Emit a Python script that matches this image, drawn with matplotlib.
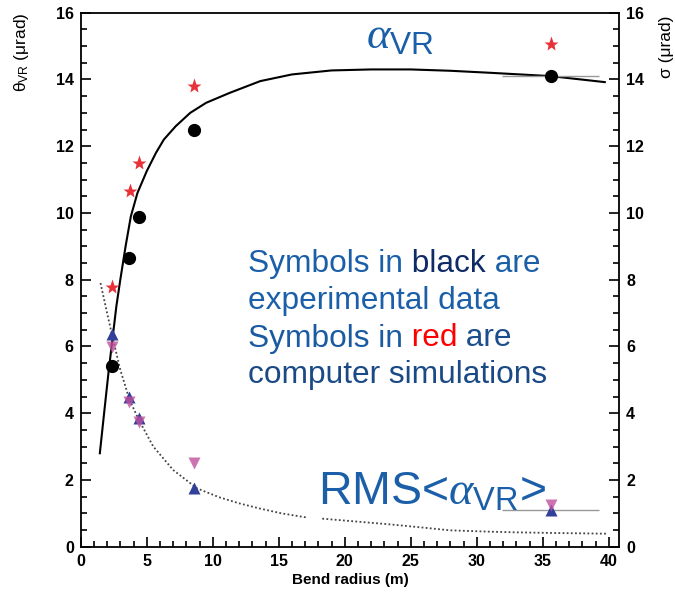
import matplotlib
matplotlib.use("Agg")
import matplotlib.pyplot as plt
import numpy as np

plt.rcParams['font.family'] = ['Liberation Sans', 'DejaVu Sans']
plt.rcParams['mathtext.fontset'] = 'custom'
plt.rcParams['mathtext.rm'] = 'Liberation Sans'
plt.rcParams['mathtext.it'] = 'Liberation Serif:italic'

# ---- data ----
radius_exp = [2.37, 3.68, 4.43, 8.57, 35.6]
theta_exp = [5.42, 8.66, 9.88, 12.48, 14.1]
radius_sim = [2.35, 3.73, 4.44, 8.58, 35.6]
theta_sim = [7.77, 10.65, 11.51, 13.8, 15.07]

radius_sig = [2.39, 3.68, 4.39, 8.6, 35.6]
sigma_up = [6.37, 4.49, 3.85, 1.75, 1.1]
sigma_down = [5.99, 4.34, 3.75, 2.5, 1.25]
xerr_last = [0, 0, 0, 0, 3.7]

curve_x = [1.45, 1.8, 2.1, 2.4, 2.7, 3.0, 3.4, 3.8, 4.3, 5.0, 5.7, 6.3, 7.2, 8.3,
           9.5, 11.3, 13.6, 16, 19, 22, 25, 28, 31, 35.6, 39.7]
curve_y = [2.8, 4.1, 5.2, 6.2, 7.2, 8.0, 9.0, 9.9, 10.6, 11.25, 11.8, 12.2, 12.6, 13.0,
           13.3, 13.6, 13.95, 14.15, 14.27, 14.3, 14.3, 14.26, 14.2, 14.1, 13.92]

dot_x = [1.5, 2.0, 2.4, 3.0, 3.7, 4.4, 5.5, 7.0, 8.8, 10.5, 12, 13.5, 15.2, 17.2,
         17.6, 18.3, 21, 23.4, 26, 28, 31, 33, 36, 39.8]
dot_y = [7.9, 7.0, 6.3, 5.3, 4.4, 3.8, 3.0, 2.3, 1.75, 1.48, 1.3, 1.15, 1.0, 0.87,
         np.nan, 0.84, 0.75, 0.67, 0.57, 0.49, 0.45, 0.43, 0.41, 0.39]

xticks = [0, 5, 10, 15, 20, 25, 30, 35, 40]
yticks = [0, 2, 4, 6, 8, 10, 12, 14, 16]

W, H = 675, 592
fig = plt.figure(figsize=(W / 100, H / 100), dpi=100)
ax = fig.add_axes([80.7 / W, 1 - 546.7 / H, (619.3 - 80.7) / W, (546.7 - 12.7) / H])

ax.plot(curve_x, curve_y, color='black', lw=1.5, zorder=2)
ax.plot(dot_x, dot_y, color='#444444', lw=1.3, linestyle=(0, (1, 1.3)), zorder=2)

ax.errorbar(radius_exp, theta_exp, xerr=xerr_last, fmt='o', color='black', ms=8.5,
            ecolor='#999999', elinewidth=1, capsize=0, zorder=4)
ax.plot(radius_sim, theta_sim, '*', color='#e8323a', ms=11, mec='none', zorder=4)

ax.errorbar(radius_sig, sigma_up, xerr=xerr_last, fmt='^', color='#33409a', ms=9,
            mec='none', ecolor='#999999', elinewidth=1, capsize=0, zorder=4)
ax.plot(radius_sig, sigma_down, 'v', color='#c0509f', ms=9, mec='none', alpha=0.8, zorder=5)

ax.set_xlim(0, 40.8)
ax.set_ylim(0, 16)
ax.set_xticks(xticks)
ax.set_yticks(yticks)
ax.set_xticks(np.arange(0, 41, 1), minor=True)
ax.set_yticks(np.arange(0, 16.01, 0.5), minor=True)
ax.tick_params(which='both', direction='in', top=False, right=True, labelright=True,
               width=1.2)
ax.tick_params(which='major', length=7, pad=5, labelsize=11.5)
ax.tick_params(which='minor', length=4)
for lab in ax.get_xticklabels():
    lab.set_fontweight('bold')
for t in ax.yaxis.get_major_ticks():
    t.label1.set_fontweight('bold')
    t.label2.set_fontweight('bold')
for s in ax.spines.values():
    s.set_linewidth(1.3)

ax.set_xlabel('Bend radius (m)', fontsize=11, fontweight='bold', labelpad=3)

fig.text(22 / W, 1 - 12 / H, r'$\mathrm{θ_{VR}}$ (μrad)', rotation=90, va='top',
         ha='center', fontsize=12.5)
fig.text(666 / W, 1 - 16 / H, 'σ (μrad)', rotation=90, va='top', ha='center', fontsize=12.5)

blue = '#1a5fa8'
fig.text(366 / W, 1 - 48 / H, r'$\alpha_{\mathrm{VR}}$', color=blue, fontsize=32.5,
         va='baseline', ha='left')
fig.text(318 / W, 1 - 505 / H, r'RMS<$\alpha_{\mathrm{VR}}$>', color=blue, fontsize=33.5,
         va='baseline', ha='left')

fs = 22.8
lines = [
    [('Symbols in', blue), (' black', '#0f2b66'), (' are', blue)],
    [('experimental data', blue)],
    [('Symbols in', '#1a5aa0'), (' red', '#ff0000'), (' are', '#1a4e8c')],
    [('computer simulations', '#1a4a85')],
]
baselines = [271.7, 308.5, 346.5, 383.5]
for parts, b in zip(lines, baselines):
    last = None
    for txt, col in parts:
        if last is None:
            last = fig.text(248 / W, 1 - b / H, txt, color=col, fontsize=fs,
                            va='baseline', ha='left')
        else:
            last = ax.annotate(txt, xy=(1, 0), xycoords=last, color=col, fontsize=fs,
                               va='bottom', ha='left', annotation_clip=False)

fig.savefig('out.png', dpi=100)
